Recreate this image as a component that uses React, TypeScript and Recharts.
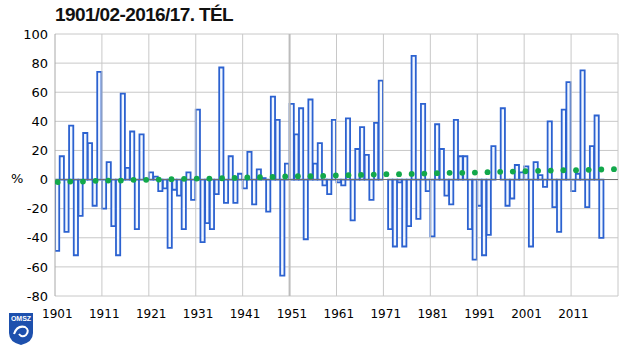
import { ComposedChart, Bar, Scatter, XAxis, YAxis, CartesianGrid, ReferenceLine } from 'recharts';

// winter precipitation anomaly (%), one bar per winter starting 1901/02
const firstYear = 1901;
const anomaly = [
  -49, 16, -36, 37, -52, -25, 32, 25, -18, 74,
  -20, 12, -32, -52, 59, 8, 33, -34, 31, 0,
  5, 2, -8, -6, -47, -7, -11, -34, 5, -14,
  48, -43, -30, -34, -10, 77, -16, 16, -16, 4,
  -6, 19, -17, 7, 1, -22, 57, 41, -66, 11,
  52, 31, 49, -41, 55, 11, 25, -4, -10, 41,
  -2, -4, 42, -28, 21, 36, 17, -14, 39, 68,
  0, -34, -46, -2, -46, -32, 85, -27, 52, -8,
  -39, 38, 21, -11, -17, 41, 16, 16, -34, -55,
  -18, -52, -38, 23, 0, 49, -18, -13, 10, 5,
  9, -46, 12, 3, -5, 40, -19, -36, 48, 67,
  -8, 4, 75, -19, 23, 44, -40,
];

// linear trend, green dots
const trend = [
  -1.8, -1.4, -1.4, -0.9, -0.7, -0.7, -0.2, -0.2, 0, 0.2,
  0.5, 0.7, 0.7, 0.9, 1.1, 1.4, 1.6, 1.8, 2.1, 2.3,
  2.3, 2.5, 2.8, 3.0, 3.2, 3.4, 3.7, 3.7, 3.9, 4.1,
  4.4, 4.6, 4.6, 4.8, 5.1, 5.3, 5.5, 5.7, 6.0, 6.2,
  6.4, 6.4, 6.7, 6.9, 7.1,
];

const yTicks = [-80, -60, -40, -20, 0, 20, 40, 60, 80, 100];
const xLabels = [1901, 1911, 1921, 1931, 1941, 1951, 1961, 1971, 1981, 1991, 2001, 2011];
const decadeLines = [1910.5, 1920.5, 1930.5, 1940.5, 1950.5, 1960.5, 1970.5, 1980.5, 1990.5, 2000.5, 2010.5, 2020.5];

const barData = anomaly.map((v, i) => ({ year: firstYear + i, v }));
const trendData = trend.map((v, i) => ({ i, v }));

const sans = 'DejaVu Sans, Verdana, sans-serif';

function Logo() {
  return (
    <svg width={26} height={34} style={{ position: 'absolute', left: 8, top: 312 }}>
      <path d="M1 1 H25 V21 Q25 30 13 33 Q1 30 1 21 Z" fill="#1d50ad" />
      <text x={13} y={9} fontSize={7} fontWeight="bold" fill="#fff" textAnchor="middle" fontFamily="Liberation Sans">
        OMSZ
      </text>
      <path d="M6 22 Q9 13 17 15 Q22 18 18 23 Q14 26 11 22" stroke="#fff" fill="none" strokeWidth={2} />
    </svg>
  );
}

export default function App() {
  return (
    <div style={{ position: 'absolute', left: 0, top: 0, width: 640, height: 352, background: '#fff', overflow: 'hidden' }}>
      <div
        style={{
          position: 'absolute', left: 55, top: 4, fontFamily: 'Liberation Sans, Arial, sans-serif',
          fontWeight: 'bold', fontSize: 19, letterSpacing: -0.6, color: '#111',
        }}
      >
        1901/02-2016/17. TÉL
      </div>
      <div style={{ position: 'absolute', left: 11, top: 171, fontFamily: sans, fontSize: 13, color: '#000' }}>%</div>
      <Logo />
      <ComposedChart
        width={640}
        height={352}
        data={barData}
        margin={{ top: 34, right: 22, left: 0, bottom: 26 }}
        barCategoryGap={0}
      >
        <CartesianGrid vertical={false} stroke="#c8c8c8" />
        {decadeLines.map((x) => (
          <ReferenceLine key={x} x={x} stroke={x === 1950.5 ? '#bcbcbc' : '#c8c8c8'} strokeWidth={x === 1950.5 ? 2 : 1} />
        ))}
        <XAxis
          dataKey="year"
          type="number"
          domain={[1900.5, 2020.5]}
          allowDataOverflow
          ticks={xLabels}
          interval={0}
          axisLine={false}
          tickLine={false}
          tickMargin={7}
          height={30}
          tick={{ fontFamily: sans, fontSize: 12, fill: '#000' }}
        />
        <XAxis xAxisId="trend" dataKey="i" type="number" domain={[-0.21, 44.32]} allowDataOverflow hide />
        <YAxis
          domain={[-80, 100]}
          ticks={yTicks}
          interval={0}
          width={55}
          tickLine={false}
          axisLine={{ stroke: '#a8a8a8' }}
          tickMargin={1}
          tick={{ fontFamily: sans, fontSize: 13, fill: '#000' }}
        />
        <Bar dataKey="v" barSize={4.7} fill="#f3f8ff" stroke="#2c62d0" strokeWidth={1.8} isAnimationActive={false} />
        <ReferenceLine y={0} stroke="#707070" />
        <Scatter
          data={trendData}
          xAxisId="trend"
          dataKey="v"
          isAnimationActive={false}
          shape={(p: any) => <circle cx={p.cx} cy={p.cy} r={2.9} fill="#12a84b" />}
        />
      </ComposedChart>
    </div>
  );
}
